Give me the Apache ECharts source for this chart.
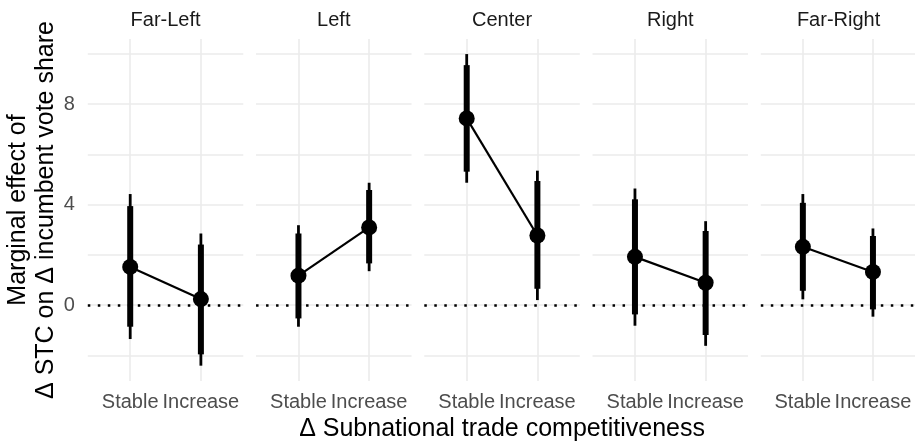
<!DOCTYPE html>
<html>
<head>
<meta charset="utf-8">
<script src="https://cdn.jsdelivr.net/npm/echarts@6/dist/echarts.min.js"></script>
<style>
html,body{margin:0;padding:0;background:#fff;}
#chart{width:915px;height:443px;}
</style>
</head>
<body>
<div id="chart"></div>
<script>
// ---- data ----
const facets = ['Far-Left', 'Left', 'Center', 'Right', 'Far-Right'];
const categories = ['Stable', 'Increase'];
const yTickLabels = [0, 4, 8];
const yGridValues = [-2, 0, 2, 4, 6, 8, 10];

const stableEst      = [1.52, 1.17, 7.43, 1.92, 2.32];
const stableInnerLo  = [-0.86, -0.53, 5.31, -0.37, 0.57];
const stableInnerHi  = [3.94, 2.85, 9.55, 4.21, 4.07];
const stableOuterLo  = [-1.35, -0.86, 4.87, -0.82, 0.23];
const stableOuterHi  = [4.42, 3.18, 9.99, 4.64, 4.42];

const increaseEst     = [0.24, 3.09, 2.77, 0.89, 1.32];
const increaseInnerLo = [-1.96, 1.66, 0.65, -1.19, -0.17];
const increaseInnerHi = [2.41, 4.58, 4.94, 2.95, 2.75];
const increaseOuterLo = [-2.41, 1.35, 0.20, -1.62, -0.46];
const increaseOuterHi = [2.85, 4.87, 5.35, 3.34, 3.05];

// ---- layout ----
const FONT = "'Liberation Sans', Arial, sans-serif";
const panelLeft0 = 87.8, panelStep = 168.25, panelW = 155.5;
const panelTop = 39, panelH = 342;

const chart = echarts.init(document.getElementById('chart'), null, {renderer: 'canvas'});

const grids = [], xAxes = [], yAxes = [], series = [], graphics = [];

function barRender(width) {
  return function (params, api) {
    const x = api.value(0), lo = api.value(1), hi = api.value(2);
    const p1 = api.coord([x, lo]), p2 = api.coord([x, hi]);
    return {
      type: 'line',
      shape: {x1: p1[0], y1: p1[1], x2: p2[0], y2: p2[1]},
      style: {stroke: '#000', lineWidth: width, lineCap: 'butt'}
    };
  };
}

facets.forEach((name, i) => {
  const left = panelLeft0 + i * panelStep;
  grids.push({left: left, top: panelTop, width: panelW, height: panelH, containLabel: false});
  xAxes.push({
    gridIndex: i, type: 'value', min: 0.4, max: 2.6,
    axisLine: {show: false},
    axisTick: {show: false, customValues: [1, 2]},
    axisLabel: {
      customValues: [1, 2], margin: 11,
      formatter: v => categories[Math.round(v) - 1],
      color: '#4d4d4d', fontSize: 20, fontFamily: FONT
    },
    splitLine: {show: true, lineStyle: {color: '#ebebeb', width: 1.6}}
  });
  yAxes.push({
    gridIndex: i, type: 'value', min: -3.02, max: 10.59,
    axisLine: {show: false},
    axisTick: {show: false, customValues: yGridValues},
    axisLabel: {
      show: i === 0, customValues: yTickLabels, margin: 13,
      color: '#4d4d4d', fontSize: 20, fontFamily: FONT
    },
    splitLine: {show: true, lineStyle: {color: '#ebebeb', width: 1.6}}
  });

  // connecting line + zero reference line
  series.push({
    type: 'line', xAxisIndex: i, yAxisIndex: i,
    data: [[1, stableEst[i]], [2, increaseEst[i]]],
    symbol: 'none', silent: true,
    lineStyle: {color: '#000', width: 2.2, opacity: 1},
    markLine: {
      symbol: 'none', silent: true, label: {show: false},
      lineStyle: {color: '#000', width: 2.5, type: [2.5, 7.5], cap: 'butt', opacity: 1},
      data: [{yAxis: 0}]
    },
    z: 3
  });
  // outer interval (thin)
  series.push({
    type: 'custom', xAxisIndex: i, yAxisIndex: i,
    renderItem: barRender(2.8),
    data: [[1, stableOuterLo[i], stableOuterHi[i]], [2, increaseOuterLo[i], increaseOuterHi[i]]],
    encode: {x: 0, y: [1, 2]}, z: 4
  });
  // inner interval (thick)
  series.push({
    type: 'custom', xAxisIndex: i, yAxisIndex: i,
    renderItem: barRender(6),
    data: [[1, stableInnerLo[i], stableInnerHi[i]], [2, increaseInnerLo[i], increaseInnerHi[i]]],
    encode: {x: 0, y: [1, 2]}, z: 5
  });
  // point estimates
  series.push({
    type: 'scatter', xAxisIndex: i, yAxisIndex: i,
    data: [[1, stableEst[i]], [2, increaseEst[i]]],
    symbol: 'circle', symbolSize: 16,
    itemStyle: {color: '#000', opacity: 1}, z: 6
  });

  graphics.push({
    type: 'text', x: left + panelW / 2, y: 20,
    style: {text: name, fill: '#1a1a1a', font: '20px ' + FONT, align: 'center', verticalAlign: 'middle'}
  });
});

graphics.push({
  type: 'text', x: 32, y: panelTop + panelH / 2, rotation: Math.PI / 2,
  style: {
    text: 'Marginal effect of\nΔ STC on Δ incumbent vote share',
    fill: '#000', font: '25px ' + FONT, align: 'center', verticalAlign: 'middle', lineHeight: 28
  }
});
graphics.push({
  type: 'text', x: panelLeft0 + (4 * panelStep + panelW) / 2, y: 429,
  style: {
    text: 'Δ Subnational trade competitiveness',
    fill: '#000', font: '25px ' + FONT, align: 'center', verticalAlign: 'middle'
  }
});

chart.setOption({
  animation: false,
  backgroundColor: '#fff',
  grid: grids,
  xAxis: xAxes,
  yAxis: yAxes,
  series: series,
  graphic: graphics
});
</script>
</body>
</html>
